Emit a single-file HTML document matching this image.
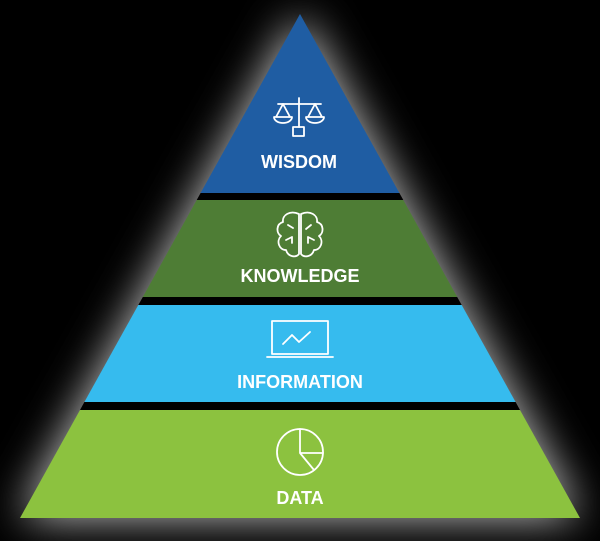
<!DOCTYPE html>
<html><head><style>
html,body{margin:0;padding:0;background:#000;width:600px;height:541px;overflow:hidden}
svg{display:block}
text{font-family:"Liberation Sans",sans-serif;font-weight:bold;font-size:18px;fill:#fff;text-anchor:middle}
</style></head><body>
<svg width="600" height="541" viewBox="0 0 600 541">
<defs>
<filter id="g" x="-30%" y="-30%" width="160%" height="160%"><feGaussianBlur stdDeviation="22"/></filter>
</defs>
<polygon points="300,14 580,518 20,518" fill="#c8c8c8" filter="url(#g)"/>
<polygon points="300,14 399.4,193 200.6,193" fill="#1f5da3"/>
<polygon points="200.6,193 399.4,193 403.3,200 196.7,200" fill="#000"/>
<polygon points="196.7,200 403.3,200 457.2,297 142.8,297" fill="#4e7d35"/>
<polygon points="142.8,297 457.2,297 461.7,305 138.3,305" fill="#000"/>
<polygon points="138.3,305 461.7,305 515.6,402 84.4,402" fill="#36bbee"/>
<polygon points="84.4,402 515.6,402 520,410 80,410" fill="#000"/>
<polygon points="80,410 520,410 580,518 20,518" fill="#8cc23f"/>
<g fill="none" stroke="#fff" stroke-width="1.8" stroke-linejoin="round" stroke-linecap="round">
<line x1="299" y1="98" x2="299" y2="127"/>
<line x1="278" y1="104" x2="321" y2="104"/>
<rect x="293" y="127" width="11" height="9"/>
<path d="M283 104 L276 117 M283 104 L290 117 M274 117 h18 a9 6 0 0 1 -18 0z"/>
<path d="M315 104 L308 117 M315 104 L322 117 M306 117 h18 a9 6 0 0 1 -18 0z"/>
<path d="M299 214 C290 210 282 215 283 222 C276 224 276 233 281 236 C276 241 279 250 286 250 C288 257 296 258 299 254 Z"/>
<path d="M301 214 C310 210 318 215 317 222 C324 224 324 233 319 236 C324 241 321 250 314 250 C312 257 304 258 301 254 Z"/>
<path d="M288 225 l5 3 M286 240 l6 -3 l0 6 M311 225 l-5 4 M314 240 l-6 -3 l0 6"/>
<rect x="272" y="321" width="56" height="33"/>
<path d="M267 357 h66"/>
<path d="M283 344 l9 -9 l7 7 l11 -10"/>
<circle cx="300" cy="452" r="23"/>
<path d="M300 429 V453 H323 M300 453 L314 470"/>
</g>
<text x="299" y="168">WISDOM</text>
<text x="300" y="282">KNOWLEDGE</text>
<text x="300" y="388">INFORMATION</text>
<text x="300" y="504">DATA</text>
</svg>
</body></html>
